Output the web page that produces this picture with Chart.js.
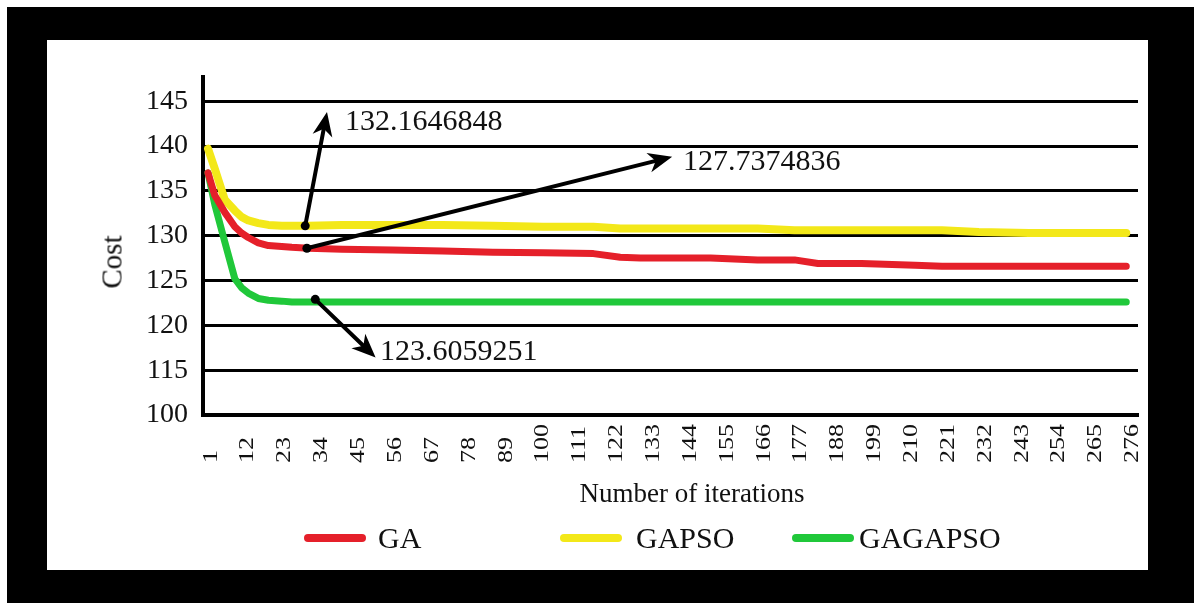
<!DOCTYPE html>
<html>
<head>
<meta charset="utf-8">
<script src="https://cdn.jsdelivr.net/npm/chart.js@4.4.0/dist/chart.umd.min.js"></script>
<style>
  html, body { margin: 0; padding: 0; background: #fff; }
  body { width: 1194px; height: 603px; position: relative; overflow: hidden;
         font-family: "Liberation Serif", "DejaVu Serif", serif; color: #111; }
  #frame { position: absolute; left: 7px; top: 7px; width: 1187px; height: 596px; background: #000; }
  #inner { position: absolute; left: 47px; top: 40px; width: 1101px; height: 530px; background: #fff; }
  #chart { position: absolute; left: 0; top: 0; }
  .ytitle { position: absolute; left: 112px; top: 262px; transform: translate(-50%, -50%) rotate(-90deg);
            font-size: 29px; white-space: nowrap; }
  .xtitle { position: absolute; left: 692px; top: 493px; transform: translate(-50%, -50%);
            font-size: 27px; white-space: nowrap; }
  .swatch { position: absolute; top: 534px; width: 62px; height: 8px; border-radius: 4px; }
  .legtext { position: absolute; top: 538px; transform: translateY(-50%); font-size: 30px; line-height: 1; white-space: nowrap; }
</style>
</head>
<body>
<div id="frame"></div>
<div id="inner"></div>
<canvas id="chart" width="1194" height="603"></canvas>
<div class="ytitle">Cost</div>
<div class="xtitle">Number of iterations</div>
<div id="legend"></div>
<script>
const iterations = [0, 2, 5, 8, 10, 12, 15, 18, 22, 25, 30, 40, 55, 70, 85, 100, 115, 123, 129, 140, 150, 164, 175, 182, 195, 211, 219, 230, 245, 260, 274];
const gaCost = [137.0, 134.5, 132.6, 131.0, 130.3, 129.8, 129.2, 128.9, 128.8, 128.7, 128.6, 128.5, 128.4, 128.3, 128.15, 128.1, 128.0, 127.6, 127.5, 127.5, 127.5, 127.3, 127.3, 126.9, 126.9, 126.7, 126.6, 126.6, 126.6, 126.6, 126.6];
const gapsoCost = [139.7, 137.5, 134.0, 132.8, 132.1, 131.7, 131.4, 131.2, 131.1, 131.1, 131.1, 131.2, 131.2, 131.2, 131.1, 131.0, 131.0, 130.8, 130.8, 130.8, 130.8, 130.8, 130.6, 130.6, 130.6, 130.6, 130.6, 130.4, 130.3, 130.3, 130.3];
const gagapsoCost = [137.0, 133.5, 129.3, 125.2, 124.2, 123.6, 123.0, 122.8, 122.7, 122.6, 122.6, 122.6, 122.6, 122.6, 122.6, 122.6, 122.6, 122.6, 122.6, 122.6, 122.6, 122.6, 122.6, 122.6, 122.6, 122.6, 122.6, 122.6, 122.6, 122.6, 122.6];

const seriesNames = ['GA', 'GAPSO', 'GAGAPSO'];
const seriesColors = ['#e5202a', '#f3e819', '#20c83a'];

const xTickValues = [1, 12, 23, 34, 45, 56, 67, 78, 89, 100, 111, 122, 133, 144, 155, 166, 177, 188, 199, 210, 221, 232, 243, 254, 265, 276];
const yTickValues = [110, 115, 120, 125, 130, 135, 140, 145];
const yTickLabels = ['100', '115', '120', '125', '130', '135', '140', '145'];

// callouts: tail point on a curve, arrow tip, text anchor (iteration, cost)
const callouts = [
  { tail: [29, 131.1], tip: [35.5, 143.8], text: '132.1646848', at: [40.9, 142.7] },
  { tail: [29.5, 128.6], tip: [138.5, 138.8], text: '127.7374836', at: [141.7, 138.2] },
  { tail: [32, 122.9], tip: [50, 116.4], text: '123.6059251', at: [51.3, 117.0] }
];

const toPoints = arr => iterations.map((it, i) => ({ x: it, y: arr[i] }));
const seriesData = [gaCost, gapsoCost, gagapsoCost];

// legend (html, spacing as in the picture)
const legendLeft = [[304, 378], [560, 636], [792, 859]];
const legend = document.getElementById('legend');
seriesNames.forEach((name, i) => {
  const sw = document.createElement('div');
  sw.className = 'swatch';
  sw.style.left = legendLeft[i][0] + 'px';
  sw.style.background = seriesColors[i];
  legend.appendChild(sw);
  const tx = document.createElement('div');
  tx.className = 'legtext';
  tx.style.left = legendLeft[i][1] + 'px';
  tx.textContent = name;
  legend.appendChild(tx);
});

function drawArrow(ctx, x1, y1, x2, y2) {
  const ang = Math.atan2(y2 - y1, x2 - x1);
  const len = 24, half = 10, notch = 7;
  ctx.beginPath();
  ctx.moveTo(x1, y1);
  ctx.lineTo(x2 - Math.cos(ang) * (len - notch), y2 - Math.sin(ang) * (len - notch));
  ctx.stroke();
  ctx.save();
  ctx.translate(x2, y2);
  ctx.rotate(ang);
  ctx.beginPath();
  ctx.moveTo(0, 0);
  ctx.lineTo(-len, -half);
  ctx.lineTo(-len + notch, 0);
  ctx.lineTo(-len, half);
  ctx.closePath();
  ctx.fill();
  ctx.restore();
  ctx.beginPath();
  ctx.arc(x1, y1, 4.5, 0, Math.PI * 2);
  ctx.fill();
}

const extras = {
  id: 'extras',
  afterDraw(chart) {
    const ctx = chart.ctx, xs = chart.scales.x, ys = chart.scales.y;
    // x tick labels, rotated and aligned at their start like the original
    ctx.save();
    ctx.fillStyle = '#111';
    ctx.font = '20px "Liberation Serif"';
    ctx.textAlign = 'left';
    ctx.textBaseline = 'middle';
    xs.ticks.forEach(t => {
      const px = xs.getPixelForValue(t.value);
      ctx.save();
      ctx.translate(px, 463);
      ctx.rotate(-Math.PI / 2);
      ctx.scale(1.3, 1);
      ctx.fillText(String(t.value), 0, 0);
      ctx.restore();
    });
    ctx.restore();

    // callout arrows
    ctx.save();
    ctx.strokeStyle = '#000';
    ctx.fillStyle = '#000';
    ctx.lineWidth = 4;
    ctx.lineCap = 'round';
    callouts.forEach(c => {
      drawArrow(ctx, xs.getPixelForValue(c.tail[0]), ys.getPixelForValue(c.tail[1]),
                xs.getPixelForValue(c.tip[0]), ys.getPixelForValue(c.tip[1]));
    });
    ctx.fillStyle = '#111';
    ctx.font = '30px "Liberation Serif"';
    ctx.textAlign = 'left';
    ctx.textBaseline = 'middle';
    callouts.forEach(c => {
      ctx.fillText(c.text, xs.getPixelForValue(c.at[0]), ys.getPixelForValue(c.at[1]));
    });
    ctx.restore();
  }
};

new Chart(document.getElementById('chart'), {
  type: 'line',
  data: {
    datasets: seriesNames.map((name, i) => ({
      label: name,
      data: toPoints(seriesData[i]),
      borderColor: seriesColors[i],
      backgroundColor: seriesColors[i],
      borderWidth: i === 1 ? 8 : 7,
      pointRadius: 0,
      tension: 0,
      fill: false,
      borderJoinStyle: 'round',
      borderCapStyle: 'round'
    }))
  },
  options: {
    responsive: false,
    animation: false,
    layout: { padding: { left: 0, top: 77, right: 56, bottom: 0 } },
    plugins: { legend: { display: false }, tooltip: { enabled: false } },
    scales: {
      x: {
        type: 'linear',
        min: -1.5,
        max: 277.5,
        afterBuildTicks: s => { s.ticks = xTickValues.map(v => ({ value: v })); },
        afterFit: s => { s.height = 188; },
        ticks: { display: false },
        grid: { display: false },
        border: { display: true, color: '#000', width: 4 }
      },
      y: {
        type: 'linear',
        min: 110,
        max: 147.7,
        afterBuildTicks: s => { s.ticks = yTickValues.map(v => ({ value: v })); },
        afterFit: s => { s.width = 203; },
        ticks: {
          padding: 15,
          color: '#111',
          font: { family: 'Liberation Serif', size: 28 },
          callback: v => yTickLabels[yTickValues.indexOf(v)]
        },
        grid: { color: '#000', lineWidth: 3, drawTicks: false },
        border: { display: true, color: '#000', width: 4 }
      }
    }
  },
  plugins: [extras]
});
</script>
</body>
</html>
